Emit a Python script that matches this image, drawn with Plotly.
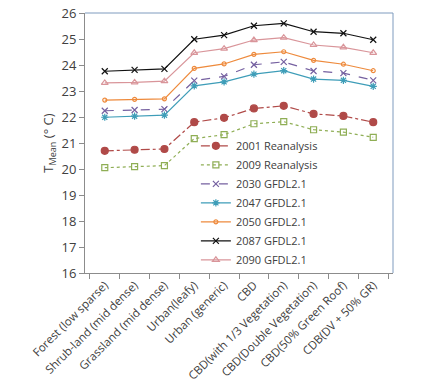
import plotly.graph_objects as go

# 地表类型（横轴类别）
categories = [
    "Forest (low sparse)", "Shrub-land (mid dense)", "Grassland (mid dense)",
    "Urban(leafy)", "Urban (generic)", "CBD", "CBD(with 1/3 Vegetation)",
    "CBD(Double Vegetation)", "CBD(50% Green Roof)", "CDB(DV + 50% GR)",
]

t2001 = [20.70, 20.74, 20.77, 21.80, 21.97, 22.33, 22.43, 22.12, 22.04, 21.80]
t2009 = [20.05, 20.09, 20.13, 21.17, 21.32, 21.74, 21.82, 21.51, 21.42, 21.22]
t2030 = [22.24, 22.27, 22.30, 23.40, 23.56, 24.01, 24.12, 23.77, 23.69, 23.41]
t2047 = [21.99, 22.03, 22.07, 23.20, 23.35, 23.65, 23.78, 23.46, 23.41, 23.18]
t2050 = [22.65, 22.68, 22.70, 23.87, 24.04, 24.41, 24.51, 24.18, 24.03, 23.78]
t2087 = [23.76, 23.81, 23.85, 24.99, 25.15, 25.51, 25.60, 25.28, 25.22, 24.97]
t2090 = [23.31, 23.33, 23.38, 24.47, 24.63, 24.96, 25.05, 24.77, 24.68, 24.47]

# 名称, 数据, 颜色, 线型, 标记, 标记大小
SERIES = [
    ("2001 Reanalysis", t2001, "#B04A48", "dashdot", "circle", 7),
    ("2009 Reanalysis", t2009, "#8FAE55", "dot", "square-open", 6),
    ("2030 GFDL2.1", t2030, "#7560A0", "dash", "x-thin-open", 6),
    ("2047 GFDL2.1", t2047, "#3E9DB8", "solid", "asterisk-open", 6),
    ("2050 GFDL2.1", t2050, "#EE8A3C", "solid", "circle-open", 4),
    ("2087 GFDL2.1", t2087, "#111111", "solid", "x-thin-open", 6),
    ("2090 GFDL2.1", t2090, "#D9959A", "solid", "triangle-up-open", 6),
]

fig = go.Figure()
for name, vals, color, dash, symbol, size in SERIES:
    fig.add_trace(go.Scatter(
        x=categories,
        y=vals,
        name=name,
        mode="lines+markers",
        line=dict(color=color, width=1.2, dash=dash),
        marker=dict(symbol=symbol, size=size, color=color,
                    line=dict(color=color, width=1.2)),
    ))

fig.update_layout(
    template="plotly_white",
    width=426,
    height=388,
    paper_bgcolor="white",
    plot_bgcolor="white",
    font=dict(family="Open Sans, sans-serif", size=12, color="#404040"),
    margin=dict(l=85, r=33, t=13, b=115, autoexpand=False),
    showlegend=True,
    legend=dict(
        x=0.36, y=0.545, xanchor="left", yanchor="top",
        bgcolor="rgba(0,0,0,0)",
        font=dict(size=11, color="#404040"),
        itemwidth=30,
        tracegroupgap=0,
    ),
    xaxis=dict(
        automargin=False,
        tickangle=-45,
        showgrid=False,
        showline=True,
        linecolor="#8C8C8C",
        ticks="outside",
        ticklen=5,
        tickcolor="#8C8C8C",
        tickson="boundaries",
        mirror=False,
        tickfont=dict(size=11.5, color="#404040"),
    ),
    yaxis=dict(
        automargin=True,
        range=[16, 26],
        dtick=1,
        showgrid=False,
        showline=True,
        linecolor="#8C8C8C",
        ticks="outside",
        ticklen=5,
        tickcolor="#8C8C8C",
        zeroline=False,
        tickfont=dict(size=13, color="#404040"),
        title=dict(text="T<sub>Mean</sub> (° C)", font=dict(size=13, color="#404040"), standoff=4),
    ),
    shapes=[
        dict(type="line", xref="paper", yref="paper", x0=0, x1=1, y0=1, y1=1,
             line=dict(color="#7F9BBE", width=1)),
        dict(type="line", xref="paper", yref="paper", x0=1, x1=1, y0=0, y1=1,
             line=dict(color="#7F9BBE", width=1)),
    ],
)

# 去掉页面 body 默认的 8px 外边距，不显示工具栏
fig.write_html("out.html", config={"displayModeBar": False},
               post_script="document.body.style.margin='0';")
